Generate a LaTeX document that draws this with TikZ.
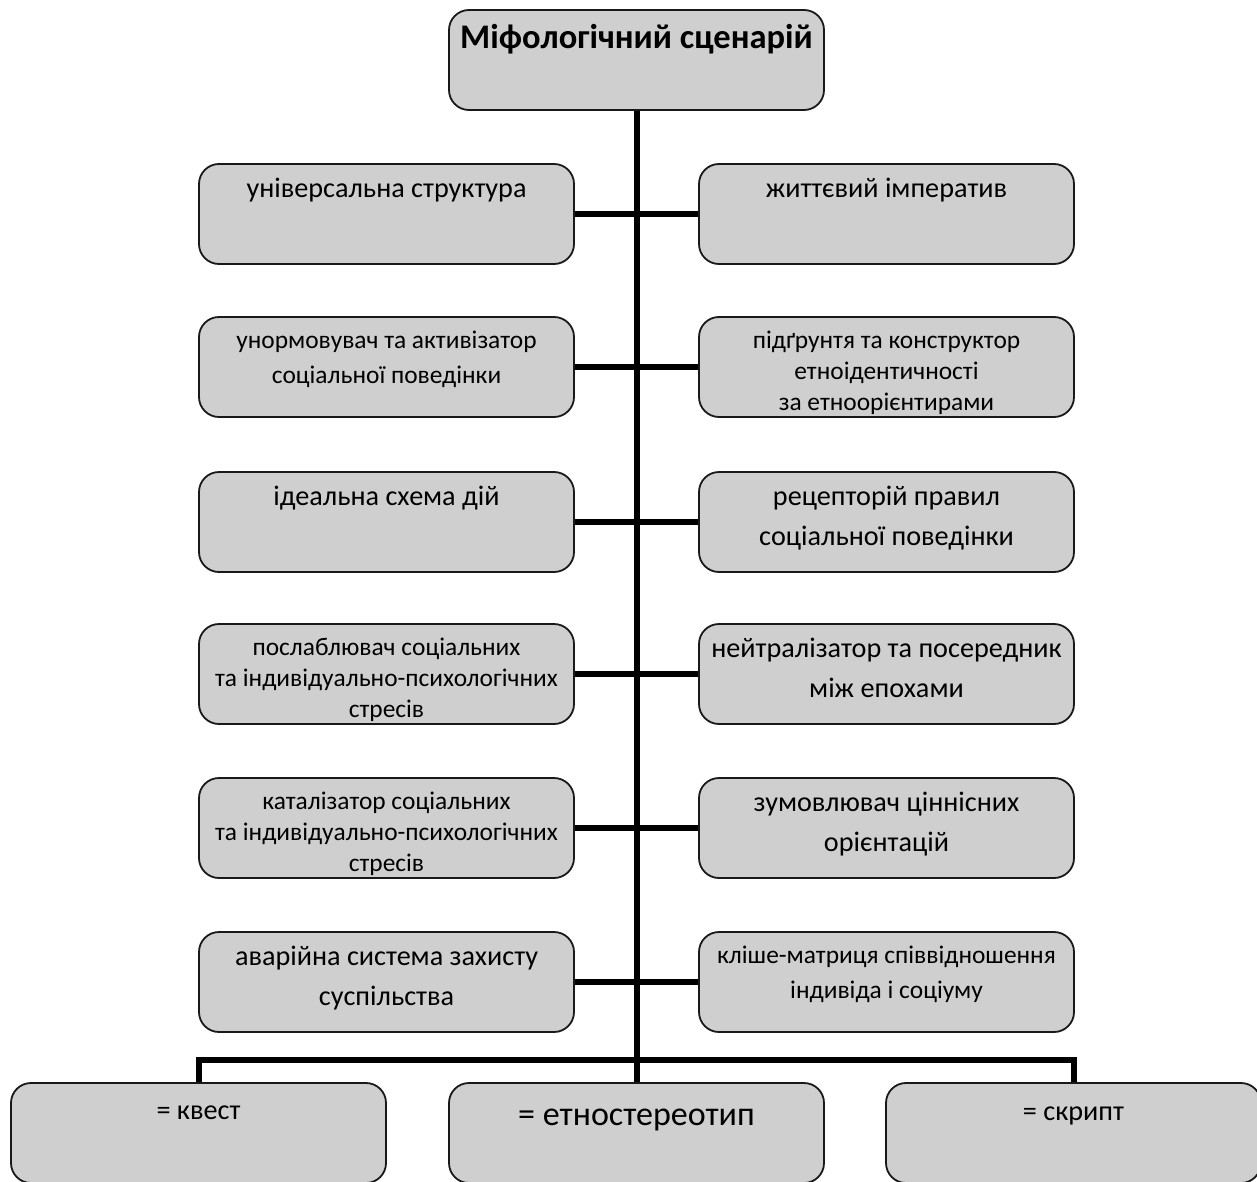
\documentclass[tikz,border=0pt]{standalone}
\usepackage{fontspec}
\setmainfont{Carlito}
\usetikzlibrary{positioning}

\definecolor{blokfill}{RGB}{207,207,207}
\newcommand{\tytul}{\fontsize{34.5}{40}\selectfont\bfseries}
\newcommand{\velyk}{\fontsize{28.2}{40}\selectfont}
\newcommand{\mal}{\fontsize{25.4}{31}\selectfont}
\newcommand{\malsh}{\fontsize{25.4}{35}\selectfont}
\newcommand{\naivel}{\fontsize{34}{40}\selectfont}

\tikzset{
  blok/.style={draw=black!90, line width=1.8pt, fill=blokfill, rounded corners=20pt,
    minimum width=375pt, minimum height=100pt, inner sep=0pt},
  napys/.style={anchor=north, yshift=-15pt, align=center, inner sep=0pt},
  nyz/.style={napys, yshift=-9pt},
  lin/.style={line width=6pt, black},
}

\begin{document}
\begin{tikzpicture}[x=1pt, y=-1pt]
\useasboundingbox (0,0) rectangle (1257,1182);

\node[blok, label={[napys, font=\tytul]north:{Міфологічний сценарій}}] (mif) at (636.5,60) {};

% ліві блоки
\node[blok, label={[napys, font=\velyk]north:{універсальна структура}}] (l1) at (386.5,214) {};
\node[blok, label={[napys, font=\malsh]north:{унормовувач та активізатор\\соціальної поведінки}}] (l2) at (386.5,367) {};
\node[blok, label={[napys, font=\velyk]north:{ідеальна схема дій}}] (l3) at (386.5,522) {};
\node[blok, label={[napys, font=\mal]north:{послаблювач соціальних\\та індивідуально-психологічних\\стресів}}] (l4) at (386.5,674) {};
\node[blok, label={[napys, font=\mal]north:{каталізатор соціальних\\та індивідуально-психологічних\\стресів}}] (l5) at (386.5,828) {};
\node[blok, label={[napys, font=\velyk]north:{аварійна система захисту\\суспільства}}] (l6) at (386.5,982) {};

% праві блоки
\node[blok, label={[napys, font=\velyk]north:{життєвий імператив}}] (r1) at (886.5,214) {};
\node[blok, label={[napys, font=\mal]north:{підґрунтя та конструктор\\етноідентичності\\за етноорієнтирами}}] (r2) at (886.5,367) {};
\node[blok, label={[napys, font=\velyk]north:{рецепторій правил\\соціальної поведінки}}] (r3) at (886.5,522) {};
\node[blok, label={[napys, font=\velyk]north:{нейтралізатор та посередник\\між епохами}}] (r4) at (886.5,674) {};
\node[blok, label={[napys, font=\velyk]north:{зумовлювач ціннісних\\орієнтацій}}] (r5) at (886.5,828) {};
\node[blok, label={[napys, font=\malsh]north:{кліше-матриця співвідношення\\індивіда і соціуму}}] (r6) at (886.5,982) {};

% нижній ряд
\node[blok, label={[nyz, font=\velyk]north:{= квест}}] (b1) at (198.5,1133) {};
\node[blok, label={[nyz, yshift=-3pt, font=\naivel]north:{= етностереотип}}] (b2) at (636.5,1133) {};
\node[blok, label={[nyz, font=\velyk]north:{= скрипт}}] (b3) at (1073.5,1133) {};

\draw[lin] (mif.south) -- (b2.north);
\foreach \i in {1,...,6} \draw[lin] (l\i.east) -- (r\i.west);
\coordinate (rozg) at (636.5,1060);
\draw[lin] (b1.north) |- (rozg) -| (b3.north);

\end{tikzpicture}
\end{document}
